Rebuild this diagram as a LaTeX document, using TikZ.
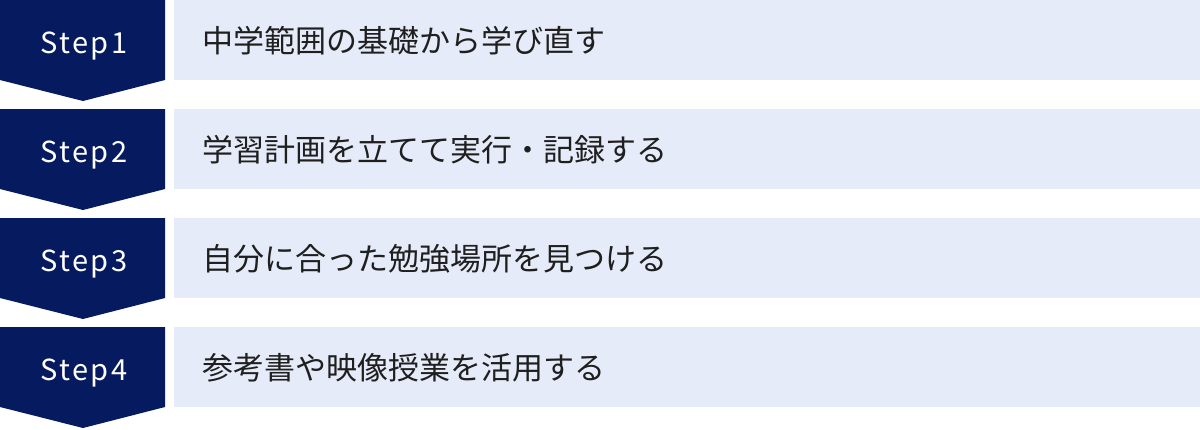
\documentclass[tikz,border=0pt]{standalone}
\usepackage{fontspec}
\setmainfont{Noto Sans CJK JP}
\newfontfamily\stepfont[LetterSpace=8]{Noto Sans CJK JP}
\usetikzlibrary{positioning}

\definecolor{stepnavy}{HTML}{061A60}
\definecolor{barblue}{HTML}{E5EBF8}

\begin{document}
\begin{tikzpicture}[x=0.5pt, y=-0.5pt,
    stepbox/.style={fill=stepnavy},
    steplabel/.style={anchor=base, text=white, inner sep=0pt, font=\stepfont\fontsize{14.5}{17}\selectfont},
    bar/.style={fill=barblue, anchor=north west, inner sep=0pt, minimum width=513pt, minimum height=40pt},
    bartext/.style={inner sep=0pt, text=black!88, font=\fontsize{15.5}{18}\selectfont}]
    \useasboundingbox (0,0) rectangle (1200,429);

    % Step 1
    \fill[stepbox] (0,0) -- (165,0) -- (165,80) -- (83,101) -- (0,80) -- cycle;
    \node[steplabel] (step1) at (84,53) {Step1};
    \node[bar] (bar1) at (174,0) {};
    \node[bartext, right=14pt of bar1.west] (text1) {中学範囲の基礎から学び直す};

    % Step 2
    \fill[stepbox] (0,109) -- (165,109) -- (165,189) -- (83,210) -- (0,189) -- cycle;
    \node[steplabel] (step2) at (84,162) {Step2};
    \node[bar] (bar2) at (174,109) {};
    \node[bartext, right=14pt of bar2.west] (text2) {学習計画を立てて実行・記録する};

    % Step 3
    \fill[stepbox] (0,218) -- (165,218) -- (165,298) -- (83,319) -- (0,298) -- cycle;
    \node[steplabel] (step3) at (84,271) {Step3};
    \node[bar] (bar3) at (174,218) {};
    \node[bartext, right=14pt of bar3.west] (text3) {自分に合った勉強場所を見つける};

    % Step 4
    \fill[stepbox] (0,327) -- (165,327) -- (165,407) -- (83,428) -- (0,407) -- cycle;
    \node[steplabel] (step4) at (84,380) {Step4};
    \node[bar] (bar4) at (174,327) {};
    \node[bartext, right=14pt of bar4.west] (text4) {参考書や映像授業を活用する};
\end{tikzpicture}
\end{document}
